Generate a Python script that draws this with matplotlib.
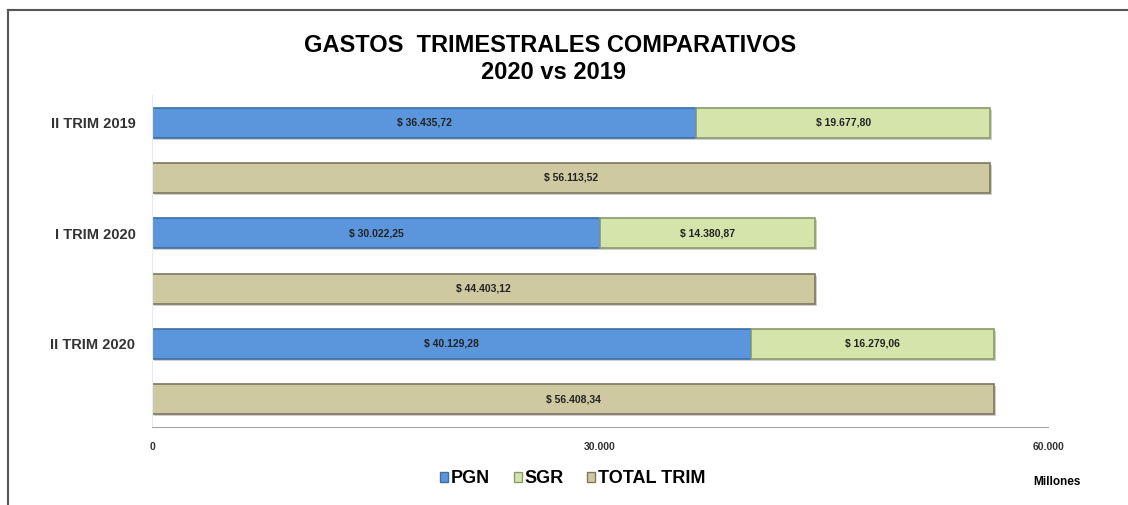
import matplotlib.pyplot as plt
import matplotlib.patheffects as pe
from matplotlib.lines import Line2D
from matplotlib.patches import Patch

plt.rcParams['font.family'] = ['Liberation Sans', 'DejaVu Sans']

categories = ['II TRIM 2019', 'I TRIM 2020', 'II TRIM 2020']
pgn = [36435.72, 30022.25, 40129.28]
sgr = [19677.80, 14380.87, 16279.06]
total = [56113.52, 44403.12, 56408.34]
xticks = [0, 30000, 60000]
xtick_labels = ['0', '30.000', '60.000']

c_pgn, e_pgn = '#5b95dc', '#3d6ea8'
c_sgr, e_sgr = '#d5e4aa', '#8a9a6a'
c_tot, e_tot = '#cfc9a1', '#7d7760'


def fmt(v):
    s = '{:,.2f}'.format(v)
    return '$ ' + s.replace(',', 'X').replace('.', ',').replace('X', '.')


fig = plt.figure(figsize=(11.28, 5.05), dpi=100)
ax = fig.add_axes([0.1348, 0.1545, 0.7943, 0.6574])

shadow = [pe.SimplePatchShadow(offset=(1.5, -1.5), shadow_rgbFace='#b0b0b0', alpha=0.6), pe.Normal()]
h = 0.27
for i in range(len(categories)):
    y1 = i - 0.25
    y2 = i + 0.25
    b = ax.barh(y1, pgn[i], height=h, color=c_pgn, edgecolor=e_pgn, linewidth=1.2)
    b[0].set_path_effects(shadow)
    b = ax.barh(y1, sgr[i], left=pgn[i], height=h, color=c_sgr, edgecolor=e_sgr, linewidth=1.2)
    b[0].set_path_effects(shadow)
    b = ax.barh(y2, total[i], height=h, color=c_tot, edgecolor=e_tot, linewidth=1.2)
    b[0].set_path_effects(shadow)
    ax.text(pgn[i] / 2, y1, fmt(pgn[i]), ha='center', va='center', fontsize=7.5, fontweight='bold', color='#222222')
    ax.text(pgn[i] + sgr[i] / 2, y1, fmt(sgr[i]), ha='center', va='center', fontsize=7.5, fontweight='bold', color='#222222')
    ax.text(total[i] / 2, y2, fmt(total[i]), ha='center', va='center', fontsize=7.5, fontweight='bold', color='#222222')

ax.set_xlim(0, 60000)
ax.set_ylim(2.5, -0.5)
ax.set_yticks([i - 0.25 for i in range(len(categories))])
ax.set_yticklabels(categories, fontsize=10.5, fontweight='bold', color='#333333')
ax.set_xticks(xticks)
ax.set_xticklabels(xtick_labels, fontsize=7.5, fontweight='bold', color='#333333')
ax.tick_params(length=0)
ax.tick_params(axis='y', pad=12)
ax.tick_params(axis='x', pad=11)
for s in ['top', 'right']:
    ax.spines[s].set_visible(False)
ax.spines['left'].set_color('#e3ebf5')
ax.spines['bottom'].set_color('#a6a6a6')

fig.text(0.488, 0.909, 'GASTOS  TRIMESTRALES COMPARATIVOS', ha='center', va='center', fontsize=17, fontweight='bold')
fig.text(0.491, 0.857, '2020 vs 2019', ha='center', va='center', fontsize=17, fontweight='bold')

handles = [Patch(facecolor=c_pgn, edgecolor=e_pgn), Patch(facecolor=c_sgr, edgecolor=e_sgr), Patch(facecolor=c_tot, edgecolor=e_tot)]
fig.legend(handles, ['PGN', 'SGR', 'TOTAL TRIM'], loc='center', bbox_to_anchor=(0.508, 0.052), ncol=3, frameon=False,
           prop={'weight': 'bold', 'size': 13}, handlelength=0.45, handleheight=0.45, handletextpad=0.15, columnspacing=1.3)

fig.text(0.937, 0.045, 'Millones', ha='center', va='center', fontsize=8.5, fontweight='bold')

fig.add_artist(Line2D([0.0075, 0.0075], [0, 0.98], transform=fig.transFigure, color='#555555', lw=1.5))
fig.add_artist(Line2D([0.0075, 1], [0.98, 0.98], transform=fig.transFigure, color='#555555', lw=1.5))

fig.savefig('out.png', dpi=100)
